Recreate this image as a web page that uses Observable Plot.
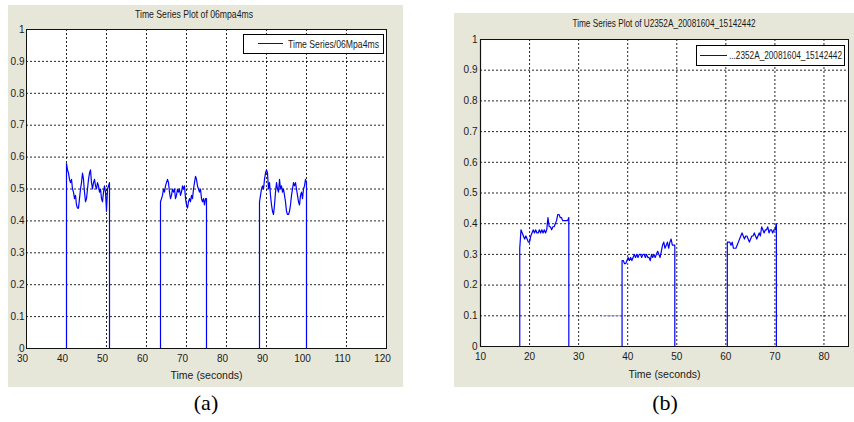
<!DOCTYPE html>
<html>
<head>
<meta charset="utf-8">
<script src="https://cdn.jsdelivr.net/npm/d3@7"></script>
<script src="https://cdn.jsdelivr.net/npm/@observablehq/plot@0.6"></script>
<style>
  html, body { margin: 0; padding: 0; background: #ffffff; }
  body { width: 854px; height: 422px; position: relative; overflow: hidden; }
  .panel { position: absolute; background: #e7e7d9; z-index: 0; }
  .abs { position: absolute; }
  .chart { z-index: 2; }
  .chart svg { display: block; overflow: visible; }
  .txt { font-family: "Liberation Sans", Arial, sans-serif; font-size: 11px; color: #1a1a1a; white-space: nowrap; line-height: 1; z-index: 3; }
  .title { transform-origin: 50% 50%; }
  .left { transform-origin: 0 50%; }
  .legend { border: 1px solid #000; background: #fff; box-sizing: border-box; z-index: 3; }
  .lline { z-index: 4; }
  .cap { font-family: "Liberation Serif", "Times New Roman", serif; font-size: 22px; color: #000; transform: translate(-50%, -50%); line-height: 1; }
  #err { position: absolute; left: 0; top: 0; color: red; font: 10px monospace; z-index: 10; white-space: pre; }
</style>
</head>
<body>
<div class="panel" style="left:8px;top:5px;width:395px;height:382px;"></div>
<div class="panel" style="left:454px;top:13px;width:400px;height:374px;"></div>

<div class="abs txt title" data-w="118" style="left:194px;top:14px;">Time Series Plot of 06mpa4ms</div>
<div class="abs txt title" data-w="183" style="left:664px;top:23px;">Time Series Plot of U2352A_20081604_15142442</div>

<div id="chartA" class="abs chart" style="left:8px;top:5px;width:395px;height:382px;"></div>
<div id="chartB" class="abs chart" style="left:454px;top:13px;width:400px;height:374px;"></div>

<div class="abs legend" style="left:243px;top:34px;width:141px;height:20px;"></div>
<div class="abs lline" style="left:258px;top:43px;width:25px;height:0;border-top:1px solid #0000ff;"></div>
<div class="abs txt left" data-w="91" style="left:288px;top:39px;">Time Series/06Mpa4ms</div>

<div class="abs legend" style="left:696px;top:45px;width:149px;height:21px;"></div>
<div class="abs lline" style="left:700px;top:55px;width:27px;height:0;border-top:1px solid #0000ff;"></div>
<div class="abs txt left" data-w="113" style="left:729px;top:50px;">...2352A_20081604_15142442</div>

<div class="abs cap" style="left:206px;top:403px;">(a)</div>
<div class="abs cap" style="left:665px;top:403px;">(b)</div>
<div id="err"></div>

<script>
// ---- data ----
const STEP = 0.25; // sampling interval of the listed burst values (seconds)

// Panel (a)
const aXDomain = [30, 120];
const aXTicks = [30, 40, 50, 60, 70, 80, 90, 100, 110, 120];
const aTimeRange = [30, 115];
const aBurstStarts = [40.0, 63.5, 88.25];
const aBurst1 = [0.58,0.56,0.55,0.53,0.52,0.53,0.50,0.49,0.47,0.48,
                 0.45,0.44,0.44,0.47,0.50,0.52,0.55,0.53,0.49,0.46,
                 0.47,0.50,0.53,0.55,0.56,0.52,0.50,0.52,0.53,0.51,
                 0.50,0.52,0.51,0.49,0.50,0.47,0.46,0.49,0.51,0.49,
                 0.43,0.50,0.51,0.52];
const aBurst2 = [0.46,0.47,0.48,0.50,0.49,0.51,0.52,0.53,0.52,0.49,
                 0.47,0.48,0.50,0.49,0.50,0.47,0.48,0.50,0.49,0.50,
                 0.48,0.49,0.51,0.50,0.51,0.47,0.45,0.44,0.46,0.47,
                 0.46,0.48,0.47,0.50,0.52,0.54,0.53,0.51,0.50,0.49,
                 0.50,0.47,0.46,0.47,0.45,0.47,0.47];
const aBurst3 = [0.46,0.48,0.50,0.51,0.50,0.53,0.55,0.56,0.55,0.50,
                 0.52,0.48,0.45,0.43,0.42,0.45,0.49,0.52,0.50,0.49,
                 0.53,0.50,0.51,0.49,0.50,0.48,0.46,0.43,0.42,0.42,
                 0.43,0.45,0.48,0.50,0.52,0.51,0.52,0.50,0.48,0.46,
                 0.45,0.48,0.49,0.47,0.50,0.51,0.53,0.52];

// Panel (b)
const bXDomain = [10, 85];
const bXTicks = [10, 20, 30, 40, 50, 60, 70, 80];
const bTimeEnd = 75;
const bLead = [[10, 1], [10, 0]];
const bPlateau = [[35.1, 0.1], [38.6, 0.1]];
const bBurstStarts = [18.0, 38.85, 60.3];
const bBurst1 = [0.32,0.38,0.37,0.36,0.35,0.36,0.35,0.34,0.34,0.36,
                 0.37,0.38,0.37,0.38,0.37,0.37,0.38,0.37,0.38,0.37,
                 0.38,0.37,0.38,0.42,0.39,0.39,0.38,0.39,0.39,0.40,
                 0.41,0.43,0.43,0.42,0.42,0.41,0.41,0.41,0.41,0.41,
                 0.42];
const bBurst2 = [0.28,0.28,0.27,0.27,0.28,0.29,0.28,0.29,0.28,0.29,
                 0.30,0.29,0.30,0.29,0.30,0.30,0.29,0.30,0.30,0.29,
                 0.30,0.29,0.29,0.28,0.30,0.29,0.30,0.29,0.30,0.31,
                 0.30,0.29,0.31,0.33,0.34,0.32,0.33,0.34,0.32,0.34,
                 0.35,0.33,0.33,0.33];
const bBurst3 = [0.34,0.34,0.34,0.33,0.34,0.32,0.32,0.32,0.33,0.34,
                 0.35,0.36,0.37,0.36,0.35,0.36,0.36,0.35,0.34,0.35,
                 0.36,0.36,0.37,0.36,0.35,0.36,0.37,0.36,0.39,0.38,
                 0.37,0.38,0.38,0.39,0.37,0.38,0.38,0.37,0.38,0.38,
                 0.40];

const yTicks = [0, 0.1, 0.2, 0.3, 0.4, 0.5, 0.6, 0.7, 0.8, 0.9, 1];
const xLabel = "Time (seconds)";

// ---- build series (rise from 0, samples, drop to 0) ----
function burst(start, values) {
  const pts = [{t: start, v: 0}];
  values.forEach((v, i) => pts.push({t: start + i * STEP, v}));
  pts.push({t: start + (values.length - 1) * STEP, v: 0});
  return pts;
}
const pt = ([t, v]) => ({t, v});
const aPoints = [pt([aTimeRange[0], 0]),
  ...burst(aBurstStarts[0], aBurst1),
  ...burst(aBurstStarts[1], aBurst2),
  ...burst(aBurstStarts[2], aBurst3),
  pt([aTimeRange[1], 0])];
const bPoints = [...bLead.map(pt),
  ...burst(bBurstStarts[0], bBurst1),
  ...burst(bBurstStarts[1], bBurst2),
  ...burst(bBurstStarts[2], bBurst3),
  pt([bTimeEnd, 0])];
const bExtra = bPlateau.map(pt);

const FONT = "Liberation Sans, Arial, sans-serif";

function makeChart(o) {
  const gridXT = o.xTicks.filter(t => t > o.xDomain[0] && t < o.xDomain[1]);
  const svg = Plot.plot({
    width: o.width, height: o.height,
    marginLeft: o.ml, marginRight: o.mr, marginTop: o.mt, marginBottom: o.mb,
    style: { background: "none", fontFamily: FONT, fontSize: "10px", color: "#1a1a1a" },
    x: { domain: o.xDomain },
    y: { domain: [0, 1] },
    marks: [
      Plot.frame({ fill: "#ffffff", stroke: "none" }),
      Plot.gridX(gridXT, { stroke: "#000", strokeOpacity: 0.85, strokeDasharray: "2,2" }),
      Plot.gridY(yTicks.slice(1, -1), { stroke: "#000", strokeOpacity: 0.85, strokeDasharray: "2,2" }),
      o.extra ? Plot.line(o.extra, { x: "t", y: "v", stroke: "#8f8fff", strokeWidth: 1, strokeDasharray: "2,1" }) : null,
      Plot.line(o.points, { x: "t", y: "v", stroke: "#0000ff", strokeWidth: 1.2 }),
      Plot.frame({ stroke: "#111" }),
      Plot.axisX(o.xTicks, { tickSize: 0, tickPadding: o.xpad, dx: o.xdx, tickFormat: d => String(d), label: null, fontSize: 10 }),
      Plot.axisY(yTicks, { tickSize: 0, tickPadding: o.ypad, tickFormat: d => String(d), label: null, fontSize: 10 }),
      Plot.text([xLabel], { text: d => d, frameAnchor: "bottom", dy: o.labelDy, lineAnchor: "middle", fill: "#1a1a1a", fontSize: 10.5, ariaLabel: "xlabel" })
    ]
  });
  svg.querySelectorAll('g[aria-label="xlabel"] text').forEach(t => {
    t.setAttribute("textLength", o.labelW);
    t.setAttribute("lengthAdjust", "spacingAndGlyphs");
  });
  return svg;
}

try {
  document.getElementById("chartA").appendChild(makeChart({
    width: 395, height: 382, ml: 18, mr: 17, mt: 24, mb: 39,
    xDomain: aXDomain, xTicks: aXTicks, points: aPoints, xpad: 6, xdx: -4, ypad: 2, labelDy: 27, labelW: 60
  }));
  document.getElementById("chartB").appendChild(makeChart({
    width: 400, height: 374, ml: 26, mr: 6, mt: 26, mb: 41,
    xDomain: bXDomain, xTicks: bXTicks, points: bPoints, extra: bExtra, xpad: 6, xdx: 0, ypad: 3, labelDy: 28, labelW: 58
  }));
} catch (e) {
  document.getElementById("err").textContent = String(e && e.stack || e);
}

// condense HTML texts to the widths seen in the reference
document.querySelectorAll("[data-w]").forEach(el => {
  const w = el.getBoundingClientRect().width;
  const s = (+el.dataset.w) / w;
  if (el.classList.contains("title")) el.style.transform = `translate(-50%, -50%) scaleX(${s})`;
  else el.style.transform = `scaleX(${s})`;
});
</script>
</body>
</html>
